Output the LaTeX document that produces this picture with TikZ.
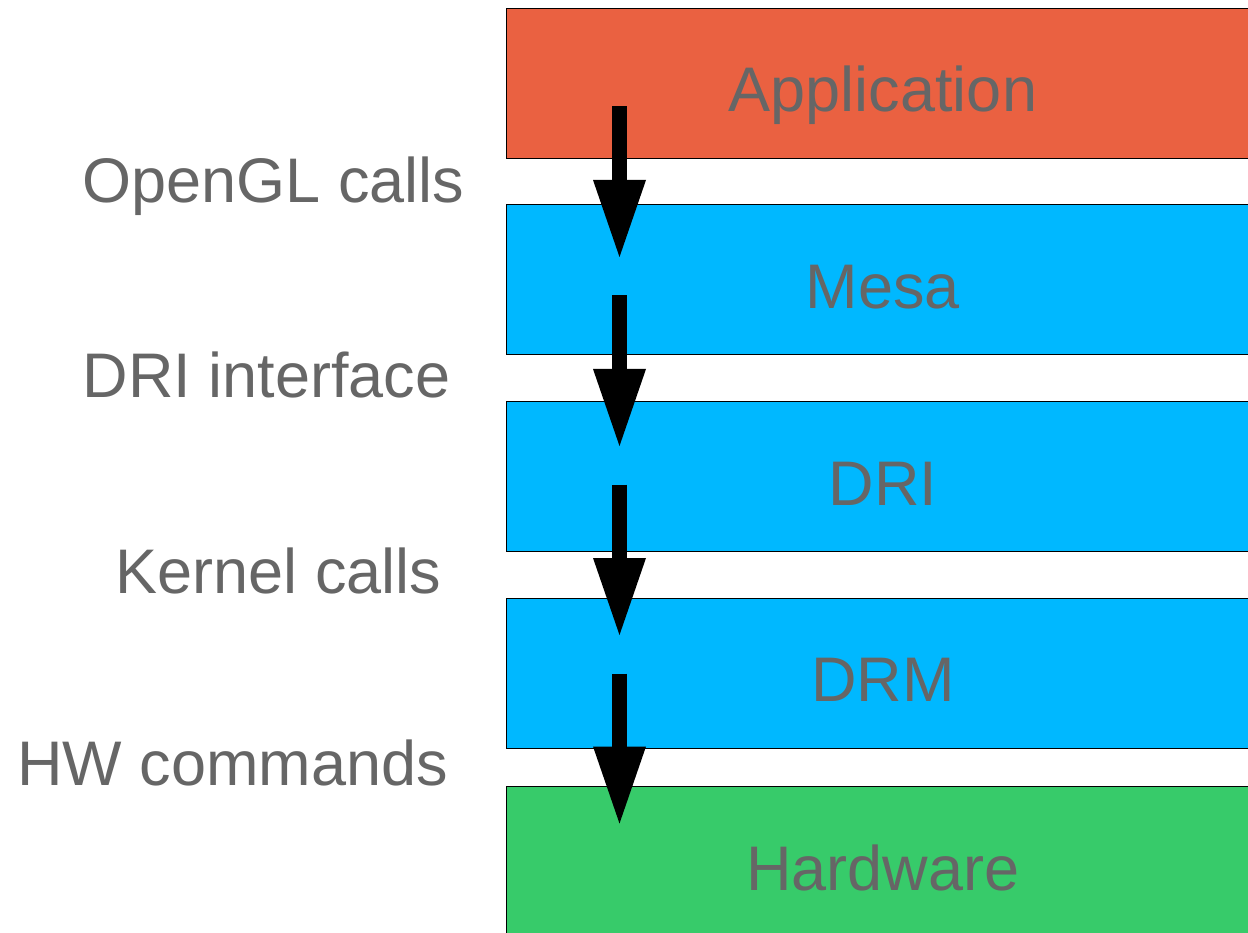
\documentclass[tikz,border=0pt]{standalone}
\usepackage{fontspec}
\setmainfont{Liberation Sans}
\usetikzlibrary{positioning,calc,arrows.meta}

\definecolor{apporange}{RGB}{234,97,65}
\definecolor{layerblue}{RGB}{0,184,255}
\definecolor{hwgreen}{RGB}{55,203,106}
\definecolor{textgray}{RGB}{102,102,102}

\tikzset{
  layer/.style={draw=black,line width=1pt,minimum width=754pt,minimum height=150pt,
    text height=70pt,text depth=13pt,inner sep=0pt,outer sep=0pt,
    font=\fontsize{63}{75}\selectfont,text=textgray},
  callname/.style={anchor=base,font=\fontsize{63}{75}\selectfont,text=textgray,inner sep=0pt},
  flow/.style={line width=15pt,-{Triangle[length=77pt,width=53pt,line width=0pt]}},
}

\begin{document}
\begin{tikzpicture}[x=1pt,y=-1pt,node distance=46.5pt]
\useasboundingbox (0,0) rectangle (1248,933);
\clip (0,0) rectangle (1248,933);
\node[layer,fill=apporange] (app) at (883,83.5) {Application};
\node[layer,fill=layerblue,below=of app] (mesa) {Mesa};
\node[layer,fill=layerblue,below=of mesa] (dri) {DRI};
\node[layer,fill=layerblue,below=of dri] (drm) {DRM};
\node[layer,fill=hwgreen,below=38.5pt of drm] (hw) {Hardware};
\coordinate (shaft) at (619.5,0);
% arrows keep a pitch of 189, a bit tighter than the boxes
\foreach \a/\b/\up/\down in {app/mesa/52/52,mesa/dri/59.5/44.5,dri/drm/67/37,drm/hw/74.5/37}
  \draw[flow] ($(\a.south -| shaft)+(0,-\up)$) -- ($(\b.north -| shaft)+(0,\down)$);
\node[callname] (gl) at (273.5,203) {OpenGL calls};
\node[callname] (driif) at (266.5,397) {DRI interface};
\node[callname] (kern) at (278.5,593) {Kernel calls};
\node[callname] (hwcmd) at (232.5,785) {HW commands};
\end{tikzpicture}
\end{document}
